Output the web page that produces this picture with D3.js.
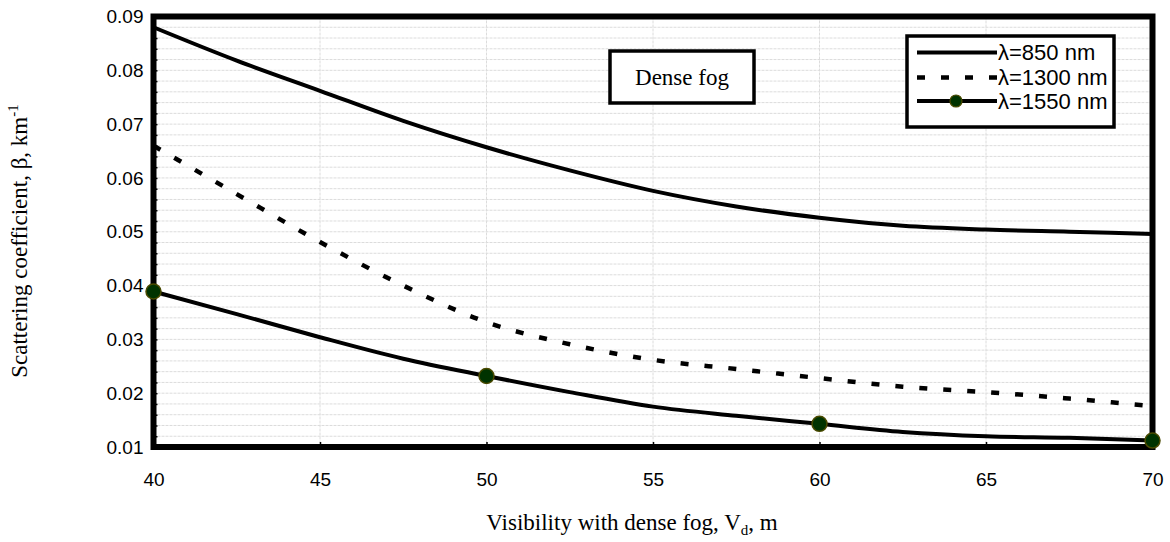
<!DOCTYPE html>
<html>
<head>
<meta charset="utf-8">
<script src="https://cdn.jsdelivr.net/npm/d3@7"></script>
<style>
  html, body { margin: 0; padding: 0; background: #fff; }
  svg { display: block; }
</style>
</head>
<body>
<svg id="chart" width="1170" height="542"></svg>
<script>
// Visibility (m) at which the scattering coefficient was evaluated
const visibility = [40, 42.5, 45, 47.5, 50, 52.5, 55, 57.5, 60, 62.5, 65, 67.5, 70];

// Scattering coefficient β (km^-1) for each wavelength
const beta850  = [0.0880, 0.0818, 0.0762, 0.0706, 0.0657, 0.0614, 0.0576, 0.0547, 0.0526, 0.0511, 0.0504, 0.0500, 0.0496];
const beta1300 = [0.0660, 0.0570, 0.0481, 0.0400, 0.0332, 0.0291, 0.0262, 0.0245, 0.0228, 0.0212, 0.0202, 0.0190, 0.0176];
const beta1550 = [0.0389, 0.0347, 0.0304, 0.0264, 0.0232, 0.0202, 0.0175, 0.0158, 0.0143, 0.0128, 0.0120, 0.0117, 0.0112];

// Visibilities marked with a dot on the 1550 nm curve
const markedVisibility = [40, 50, 60, 70];

const xTicks = [40, 45, 50, 55, 60, 65, 70];
const yTicks = [0.01, 0.02, 0.03, 0.04, 0.05, 0.06, 0.07, 0.08, 0.09];
const legendLabels = ["λ=850 nm", "λ=1300 nm", "λ=1550 nm"];

const svg = d3.select("#chart");
const plot = { left: 153.5, right: 1152.5, top: 16.5, bottom: 447 };

const x = d3.scaleLinear().domain([40, 70]).range([plot.left, plot.right]);
const y = d3.scaleLinear().domain([0.01, 0.09]).range([plot.bottom, plot.top]);

// Light dotted grid: minor horizontal lines every 0.002, vertical every 5 m
const gridY = d3.range(0.012, 0.0899, 0.002);
svg.append("g")
  .selectAll("line")
  .data(gridY)
  .join("line")
  .attr("x1", plot.left).attr("x2", plot.right)
  .attr("y1", d => y(d)).attr("y2", d => y(d))
  .attr("stroke", "#dcdcdc").attr("stroke-width", 1)
  .attr("stroke-dasharray", "3,1");

svg.append("g")
  .selectAll("line")
  .data(xTicks.slice(1, -1))
  .join("line")
  .attr("x1", d => x(d)).attr("x2", d => x(d))
  .attr("y1", plot.top).attr("y2", plot.bottom)
  .attr("stroke", "#dcdcdc").attr("stroke-width", 1)
  .attr("stroke-dasharray", "3,1");

// Axes with labels only; the frame is drawn separately
const fmt = d3.format(".2f");
const xAxis = svg.append("g")
  .attr("transform", `translate(0,${plot.bottom})`)
  .call(d3.axisBottom(x).tickValues(xTicks).tickSize(-5).tickPadding(26).tickFormat(d3.format("d")));
const yAxis = svg.append("g")
  .attr("transform", `translate(${plot.left},0)`)
  .call(d3.axisLeft(y).tickValues(d3.range(0.01, 0.0901, 0.002)).tickSize(-4).tickPadding(10)
    .tickFormat(d => (Math.round(d * 1000) % 10 === 0 ? fmt(d) : "")));

[xAxis, yAxis].forEach(g => {
  g.select(".domain").remove();
  g.selectAll(".tick line").attr("stroke", "#000").attr("stroke-width", 1.5);
  g.selectAll(".tick text")
    .attr("fill", "#000")
    .style("font-family", "'Liberation Sans', Arial, sans-serif")
    .style("font-size", "19px");
});

// Curves
const line = d3.line()
  .x(d => x(d[0]))
  .y(d => y(d[1]))
  .curve(d3.curveMonotoneX);

const series = [
  { values: beta850,  dash: null },
  { values: beta1300, dash: "8,16" },
  { values: beta1550, dash: null }
];

svg.append("g")
  .selectAll("path")
  .data(series)
  .join("path")
  .attr("d", s => line(visibility.map((v, i) => [v, s.values[i]])))
  .attr("fill", "none")
  .attr("stroke", "#000")
  .attr("stroke-width", (s, i) => i === 1 ? 4.5 : 4)
  .attr("stroke-dasharray", s => s.dash);

// Frame around the plotting area
svg.append("rect")
  .attr("x", plot.left).attr("y", plot.top)
  .attr("width", plot.right - plot.left).attr("height", plot.bottom - plot.top)
  .attr("fill", "none").attr("stroke", "#000").attr("stroke-width", 6);

// Dots on the 1550 nm curve
svg.append("g")
  .selectAll("circle")
  .data(markedVisibility)
  .join("circle")
  .attr("cx", d => x(d))
  .attr("cy", d => y(beta1550[visibility.indexOf(d)]))
  .attr("r", 7.5)
  .attr("fill", "#003300")
  .attr("stroke", "#4a4a00")
  .attr("stroke-width", 1.5);

// Annotation box
const note = svg.append("g");
note.append("rect")
  .attr("x", 610).attr("y", 51).attr("width", 144).attr("height", 52)
  .attr("fill", "#fff").attr("stroke", "#000").attr("stroke-width", 3.5);
note.append("text")
  .attr("x", 682).attr("y", 85)
  .attr("text-anchor", "middle")
  .style("font-family", "'Liberation Serif', 'Times New Roman', serif")
  .style("font-size", "23px")
  .text("Dense fog");

// Legend
const legend = svg.append("g");
legend.append("rect")
  .attr("x", 907).attr("y", 36).attr("width", 207).attr("height", 91)
  .attr("fill", "#fff").attr("stroke", "#000").attr("stroke-width", 3.5);

const rowY = [52.5, 77.5, 101];
legendLabels.forEach((label, i) => {
  const yy = rowY[i];
  legend.append("line")
    .attr("x1", 917).attr("x2", 997).attr("y1", yy).attr("y2", yy)
    .attr("stroke", "#000")
    .attr("stroke-width", i === 1 ? 4.5 : 4)
    .attr("stroke-dasharray", series[i].dash);
  if (i === 2) {
    legend.append("circle")
      .attr("cx", 956).attr("cy", yy).attr("r", 6)
      .attr("fill", "#003300").attr("stroke", "#4a4a00").attr("stroke-width", 1.2);
  }
  legend.append("text")
    .attr("x", 998).attr("y", yy + 7.5)
    .style("font-family", "'Liberation Sans', Arial, sans-serif")
    .style("font-size", "22px")
    .text(label);
});

// Axis titles
const xTitle = svg.append("text")
  .attr("x", 632).attr("y", 530)
  .attr("text-anchor", "middle")
  .style("font-family", "'Liberation Serif', 'Times New Roman', serif")
  .style("font-size", "23px");
xTitle.append("tspan").text("Visibility with dense fog, V");
xTitle.append("tspan").attr("dy", 5).style("font-size", "15px").text("d");
xTitle.append("tspan").attr("dy", -5).text(", m");

const yTitle = svg.append("text")
  .attr("transform", "translate(27,241) rotate(-90)")
  .attr("text-anchor", "middle")
  .style("font-family", "'Liberation Serif', 'Times New Roman', serif")
  .style("font-size", "23px");
yTitle.append("tspan").text("Scattering coefficient, β, km");
yTitle.append("tspan").attr("dy", -9).style("font-size", "15px").text("-1");
</script>
</body>
</html>
